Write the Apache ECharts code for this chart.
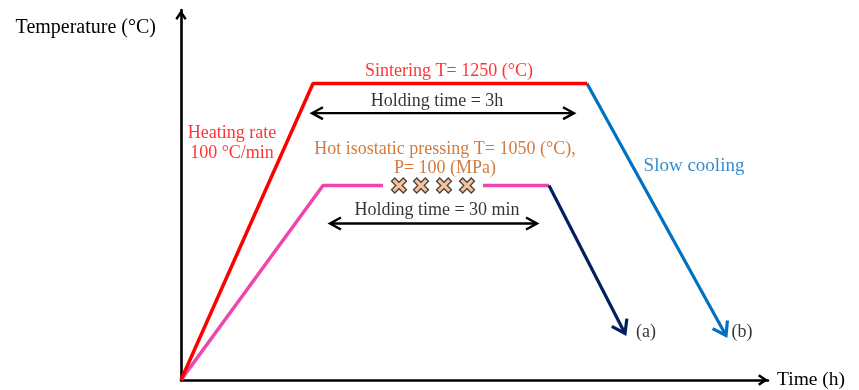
<!DOCTYPE html>
<html><head><meta charset="utf-8">
<script src="https://cdn.jsdelivr.net/npm/echarts@6/dist/echarts.min.js"></script>
<style>html,body{margin:0;padding:0;background:#fff}#c{width:859px;height:390px}</style>
</head><body><div id="c"></div>
<script>
// schematic units: time (arbitrary), temperature (schematic °C scale)
const sinteringProfile = [[0,0],[132,1250],[406,1250]];
const hipRamp = [[0,0],[142,820],[202,820]];
const hipHold = [[302,820],[368,820]];
const coolingB = [[406,1250,545,188,0]];
const coolingA = [[368,820,444,196,0]];
const holdingArrows = [[131,1125,393,1125,1],[149,660,356,660,1]];
const hipMarks = [[218,820],[240,820],[263,820],[286,820]];
const redTexts = [[268,1314,'Sintering T= 1250 (°C)'],[51,1051,'Heating rate'],[51,968,'100 °C/min']];
const orangeTexts = [[264,985,'Hot isostatic pressing T= 1050 (°C),'],[264,903,'P= 100 (MPa)']];
const blackTexts = [[256,1185,'Holding time = 3h'],[256,728,'Holding time = 30 min'],[465,211,'(a)'],[561,211,'(b)']];
const blueTexts = [[513,913,'Slow cooling']];
const xName = 'Time (h)';
const yName = 'Temperature (°C)';

const FONT = 'Liberation Serif';
const chevron = 'path://M5,0 L10,7.5 L8.3,8.8 L5,4 L1.7,8.8 L0,7.5 Z';

function arrowRenderer(L, ha, lw){
  return function(params, api){
    const p1 = api.coord([api.value(0), api.value(1)]);
    const p2 = api.coord([api.value(2), api.value(3)]);
    const both = api.value(4);
    const color = api.visual('color');
    const a = Math.atan2(p2[1]-p1[1], p2[0]-p1[0]);
    function head(t, d){
      return [[t[0]-L*Math.cos(d-ha), t[1]-L*Math.sin(d-ha)], t, [t[0]-L*Math.cos(d+ha), t[1]-L*Math.sin(d+ha)]];
    }
    const st = {stroke: color, lineWidth: lw, fill: null, lineJoin: 'miter', lineCap: 'butt'};
    const children = [
      {type:'polyline', shape:{points:[p1,p2]}, style:st},
      {type:'polyline', shape:{points:head(p2,a)}, style:st}
    ];
    if (both) children.push({type:'polyline', shape:{points:head(p1,a+Math.PI)}, style:st});
    return {type:'group', children};
  };
}

function textSeries(arr, color, size){
  return {
    type:'scatter', data: arr.map(d=>({value:[d[0],d[1]], name:d[2]})),
    symbolSize: 1, itemStyle:{color:'rgba(0,0,0,0)'}, silent:true, clip:false, z:5,
    label:{show:true, position:'inside', formatter:p=>p.name, color:color, offset:[0,2.5],
      fontFamily:FONT, fontSize:size, align:'center', verticalAlign:'middle'}
  };
}

const chart = echarts.init(document.getElementById('c'));
chart.setOption({
  animation:false,
  backgroundColor:'#fff',
  grid:{left:181, right:91, top:10, bottom:6},
  xAxis:{type:'value', min:0, max:587, splitLine:{show:false}, axisTick:{show:false}, axisLabel:{show:false},
    name:xName, nameLocation:'end', nameGap:9,
    nameTextStyle:{fontFamily:FONT, fontSize:19.5, color:'#000', verticalAlign:'middle'},
    axisLine:{lineStyle:{color:'#000', width:2.6}, symbol:['none', chevron], symbolSize:[12,10], symbolOffset:[0,-5]}},
  yAxis:{type:'value', min:0, max:1560, splitLine:{show:false}, axisTick:{show:false}, axisLabel:{show:false},
    name:yName, nameLocation:'end', nameGap:-18,
    nameTextStyle:{fontFamily:FONT, fontSize:20, color:'#000', align:'right', verticalAlign:'middle', padding:[0,25,0,0]},
    axisLine:{lineStyle:{color:'#000', width:2.6}, symbol:['none', chevron], symbolSize:[12,10], symbolOffset:[0,-5]}},
  series:[
    {type:'line', data:sinteringProfile, symbol:'none', lineStyle:{color:'#FF0000', width:3.5}, z:3},
    {type:'line', data:hipRamp, symbol:'none', lineStyle:{color:'#EE46AE', width:3.5}, z:2},
    {type:'line', data:hipHold, symbol:'none', lineStyle:{color:'#EE46AE', width:3.5}, z:2},
    {type:'custom', data:coolingB, renderItem:arrowRenderer(15, 0.6, 3.2), itemStyle:{color:'#0070C0'}, clip:false, z:3},
    {type:'custom', data:coolingA, renderItem:arrowRenderer(15, 0.6, 3.2), itemStyle:{color:'#002060'}, clip:false, z:3},
    {type:'custom', data:holdingArrows, renderItem:arrowRenderer(12.5, 0.5, 2.4), itemStyle:{color:'#000'}, clip:false, z:3},
    {type:'scatter', data:hipMarks, symbol:'path://M3,0 L7,4 L11,0 L14,3 L10,7 L14,11 L11,14 L7,10 L3,14 L0,11 L4,7 L0,3 Z',
      symbolSize:15, itemStyle:{color:'#F4B183', borderColor:'#1a1a1a', borderWidth:1.3}, z:4},
    textSeries(redTexts, '#FF0000', 18),
    textSeries(orangeTexts, '#C55A11', 18),
    textSeries(blackTexts, '#000', 18),
    textSeries(blueTexts, '#0070C0', 19)
  ]
});
</script></body></html>
